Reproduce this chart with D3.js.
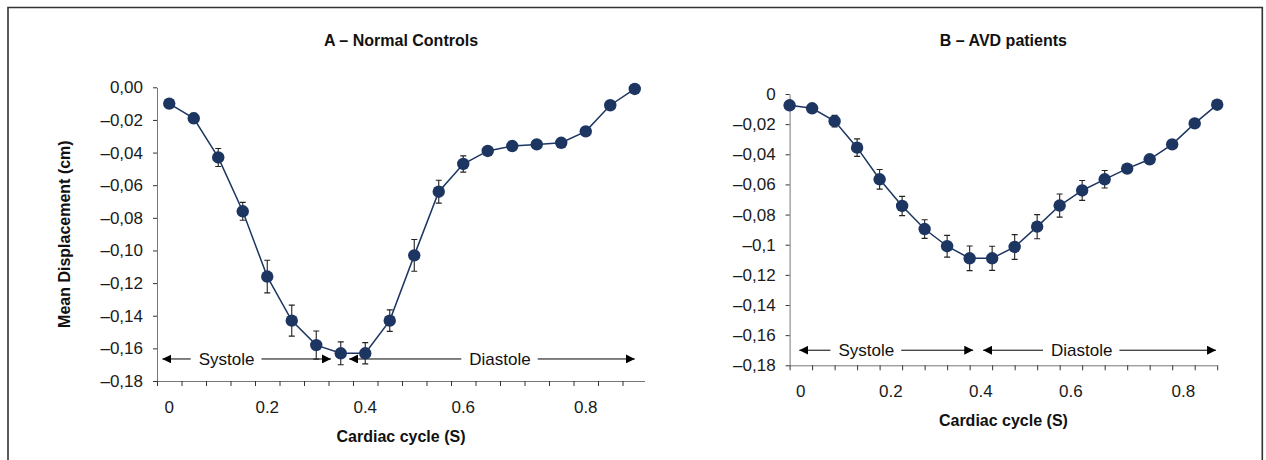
<!DOCTYPE html>
<html>
<head>
<meta charset="utf-8">
<script src="https://cdn.jsdelivr.net/npm/d3@7"></script>
<style>
  body { margin: 0; background: #fff; }
  svg { display: block; font-family: "Liberation Sans", Arial, sans-serif; }
  .axis .domain { stroke: #777; }
  .axis .tick line { stroke: #333; }
  .axis text { font-size: 17px; fill: #1a1a1a; }
  .ttl { font-size: 16px; font-weight: bold; fill: #111; }
  .phase { font-size: 17px; fill: #111; }
</style>
</head>
<body>
<div id="app"></div>
<script>
// mean displacement (cm) per sample of the cardiac cycle, 20 samples each
const controlsMean = [-0.010, -0.019, -0.043, -0.076, -0.116, -0.143, -0.158, -0.163, -0.163, -0.143,
  -0.103, -0.064, -0.047, -0.039, -0.036, -0.035, -0.034, -0.027, -0.011, -0.001]
const controlsErr = [0, 0.003, 0.0055, 0.0055, 0.010, 0.0095, 0.0086, 0.007, 0.0065, 0.0066,
  0.0097, 0.007, 0.005, 0.001, 0.0015, 0.0015, 0.002, 0.001, 0, 0]
const patientsMean = [-0.0075, -0.0095, -0.018, -0.0356, -0.0566, -0.0743, -0.0896, -0.101, -0.109, -0.109,
  -0.1015, -0.088, -0.074, -0.064, -0.0566, -0.0495, -0.0433, -0.0334, -0.0195, -0.0071]
const patientsErr = [0, 0, 0.0038, 0.0058, 0.0065, 0.0064, 0.0062, 0.0072, 0.0082, 0.008,
  0.0082, 0.008, 0.0077, 0.0066, 0.0058, 0.0026, 0.003, 0.0015, 0.0015, 0]

const xTickLabels = ['0', '0.2', '0.4', '0.6', '0.8']
const xTickSample = [0, 4, 8, 12, 17]
const yTicks = [0, -0.02, -0.04, -0.06, -0.08, -0.1, -0.12, -0.14, -0.16, -0.18]
const yLabelsA = ['0,00', '–0,02', '–0,04', '–0,06', '–0,08', '–0,10', '–0,12', '–0,14', '–0,16', '–0,18']
const yLabelsB = ['0', '–0,02', '–0,04', '–0,06', '–0,08', '–0,1', '–0,12', '–0,14', '–0,16', '–0,18']

// phase arrows, in sample units along the x axis
const phasesA = [
  { name: 'Systole', from: 0.22, to: 7.1, at: 2.84 },
  { name: 'Diastole', from: 7.84, to: 19.5, at: 14.0 }
]
const phasesB = [
  { name: 'Systole', from: 0.43, to: 8.16, at: 3.41 },
  { name: 'Diastole', from: 8.6, to: 18.95, at: 12.98 }
]

const W = 1266, H = 460
const svg = d3.select('#app').append('svg').attr('width', W).attr('height', H)

svg.append('defs').append('marker')
  .attr('id', 'arr').attr('viewBox', '0 0 10 10')
  .attr('refX', 10).attr('refY', 5)
  .attr('markerWidth', 9).attr('markerHeight', 9)
  .attr('markerUnits', 'userSpaceOnUse')
  .attr('orient', 'auto-start-reverse')
  .append('path').attr('d', 'M0,0L10,5L0,10Z').attr('fill', '#000')

// frame
svg.append('path')
  .attr('d', 'M8,' + H + 'V7.5H1262.3V' + H)
  .attr('fill', 'none').attr('stroke', '#333').attr('stroke-width', 1.6)

const navy = '#1c3561'

function panel (o) {
  const g = svg.append('g')
  const x = d3.scaleLinear().domain(o.xDomain).range(o.xRange)
  const y = d3.scaleLinear().domain([0, -0.18]).range(o.yRange)
  const px = i => x(i + o.pointShift)

  // y axis
  g.append('g').attr('class', 'axis')
    .attr('transform', `translate(${o.xRange[0]},0)`)
    .call(d3.axisLeft(y).tickValues(yTicks).tickSize(4).tickSizeOuter(0).tickPadding(10)
      .tickFormat((d, i) => o.yLabels[i]))

  // x axis: ticks at every sample boundary, labels placed separately
  const xa = g.append('g').attr('class', 'axis')
    .attr('transform', `translate(0,${o.yRange[1]})`)
    .call(d3.axisBottom(x).tickValues(d3.range(20)).tickSize(5).tickSizeOuter(0).tickFormat(''))
  xa.select('.domain').attr('d', `M${o.xRange[0]},0.5H${o.xAxisEnd}`)

  g.append('g').selectAll('text')
    .data(xTickLabels)
    .join('text')
    .attr('x', (d, i) => x(xTickSample[i] + o.labelShift))
    .attr('y', o.yRange[1] + 32)
    .attr('text-anchor', 'middle')
    .style('font-size', '17px').style('fill', '#1a1a1a')
    .text(d => d)

  // phase arrows
  const yp = y(o.phaseY)
  o.phases.forEach(p => {
    const t = g.append('text').attr('class', 'phase')
      .attr('x', x(p.at)).attr('y', yp + 6)
      .attr('text-anchor', 'middle').text(p.name)
    const bb = t.node().getBBox()
    g.append('line').attr('x1', bb.x - 8).attr('x2', x(p.from)).attr('y1', yp).attr('y2', yp)
      .attr('stroke', '#000').attr('marker-end', 'url(#arr)')
    g.append('line').attr('x1', bb.x + bb.width + 7).attr('x2', x(p.to)).attr('y1', yp).attr('y2', yp)
      .attr('stroke', '#000').attr('marker-end', 'url(#arr)')
  })

  // error bars
  const eb = g.append('g').attr('stroke', '#222').attr('stroke-width', 1.1)
  o.mean.forEach((m, i) => {
    const e = o.err[i]
    if (!e) return
    const cx = px(i)
    eb.append('path')
      .attr('d', `M${cx},${y(m - e)}V${y(m + e)}M${cx - 3},${y(m - e)}H${cx + 3}M${cx - 3},${y(m + e)}H${cx + 3}`)
  })

  g.append('path')
    .datum(o.mean)
    .attr('fill', 'none').attr('stroke', navy).attr('stroke-width', 1.5)
    .attr('d', d3.line().x((d, i) => px(i)).y(d => y(d)))

  g.append('g').selectAll('circle')
    .data(o.mean)
    .join('circle')
    .attr('cx', (d, i) => px(i)).attr('cy', d => y(d)).attr('r', 6.2)
    .attr('fill', navy)

  const mid = (o.xRange[0] + o.xAxisEnd) / 2
  g.append('text').attr('class', 'ttl').attr('x', mid).attr('y', 46)
    .attr('text-anchor', 'middle').text(o.title)
  g.append('text').attr('class', 'ttl').attr('x', mid).attr('y', o.yRange[1] + 61)
    .attr('text-anchor', 'middle').text('Cardiac cycle (S)')
  if (o.yTitle) {
    g.append('text').attr('class', 'ttl')
      .attr('transform', `translate(70,${(o.yRange[0] + o.yRange[1]) / 2}) rotate(-90)`)
      .attr('text-anchor', 'middle').text(o.yTitle)
  }
}

panel({
  title: 'A – Normal Controls',
  yTitle: 'Mean Displacement (cm)',
  mean: controlsMean, err: controlsErr,
  xDomain: [0, 20], xRange: [157, 647], xAxisEnd: 645,
  yRange: [87.3, 381],
  pointShift: 0.5, labelShift: 0.5,
  yLabels: yLabelsA,
  phases: phasesA, phaseY: -0.1665
})

panel({
  title: 'B – AVD patients',
  mean: patientsMean, err: patientsErr,
  xDomain: [0, 19], xRange: [789.6, 1217.2], xAxisEnd: 1217.2,
  yRange: [94, 365.3],
  pointShift: 0, labelShift: 0.5,
  yLabels: yLabelsB,
  phases: phasesB, phaseY: -0.17
})
</script>
</body>
</html>
